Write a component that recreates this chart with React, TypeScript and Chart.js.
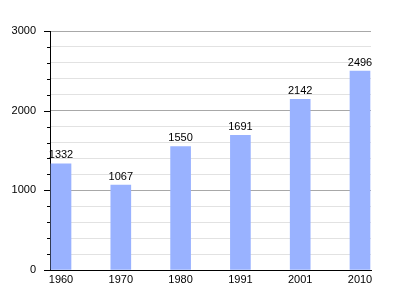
import React, { useEffect, useRef } from "react";
import { Chart, registerables } from "chart.js";

Chart.register(...registerables);

const categories = ["1960", "1970", "1980", "1991", "2001", "2010"];
const populations = [1332, 1067, 1550, 1691, 2142, 2496];
const yTickLabels = [0, 1000, 2000, 3000];

const FONT = "'Liberation Sans', Arial, sans-serif";

const overlayPlugin = {
  id: "overlay",
  afterDatasetsDraw(chart: any) {
    const ctx = chart.ctx;
    const y = chart.scales.y;
    const area = chart.chartArea;
    ctx.save();
    ctx.strokeStyle = "#000";
    ctx.lineWidth = 1;
    for (let v = 0; v <= 3000; v += 200) {
      const py = Math.round(y.getPixelForValue(v)) + 0.5;
      const len = yTickLabels.includes(v) ? 6 : 3;
      ctx.beginPath();
      ctx.moveTo(area.left - len, py);
      ctx.lineTo(area.left, py);
      ctx.stroke();
    }
    ctx.fillStyle = "#000";
    ctx.font = `11px ${FONT}`;
    ctx.textAlign = "center";
    ctx.textBaseline = "bottom";
    const meta = chart.getDatasetMeta(0);
    meta.data.forEach((bar: any, i: number) => {
      ctx.fillText(String(populations[i]), bar.x, bar.y - 3);
    });
    ctx.restore();
  },
};

export default function App() {
  const ref = useRef<HTMLCanvasElement>(null);
  useEffect(() => {
    if (!ref.current) return;
    const chart = new Chart(ref.current, {
      type: "bar",
      data: {
        datasets: [
          {
            data: populations.map((v, i) => ({ x: i, y: v })),
            backgroundColor: "#99b2ff",
            borderWidth: 0,
            barThickness: 20,
          },
        ],
      },
      options: {
        responsive: false,
        animation: false,
        layout: { padding: { left: 0, right: 29, top: 31, bottom: 0 } },
        plugins: { legend: { display: false }, tooltip: { enabled: false } },
        scales: {
          x: {
            type: "linear",
            offset: false,
            min: -0.184,
            max: 5.184,
            afterBuildTicks(scale: any) {
              scale.ticks = categories.map((_, i) => ({ value: i }));
            },
            afterFit(scale: any) {
              scale.height = 30;
            },
            grid: { display: false, drawTicks: false },
            border: { display: true, color: "#000", width: 1 },
            ticks: {
              padding: 3,
              color: "#000",
              font: { family: FONT, size: 11 },
              maxRotation: 0,
              autoSkip: false,
              callback: (v: any) => categories[Math.round(Number(v))] ?? "",
            },
          },
          y: {
            min: 0,
            max: 3000,
            afterBuildTicks(scale: any) {
              const t = [];
              for (let v = 0; v <= 3000; v += 200) t.push({ value: v });
              scale.ticks = t;
            },
            afterFit(scale: any) {
              scale.width = 50;
            },
            grid: {
              drawTicks: false,
              color: (c: any) =>
                c.tick && c.tick.value === 0
                  ? "rgba(0,0,0,0)"
                  : c.tick && yTickLabels.includes(c.tick.value)
                  ? "#a8a8a8"
                  : "#e2e2e2",
            },
            border: { display: true, color: "#000", width: 1 },
            ticks: {
              padding: 14,
              color: "#000",
              font: { family: FONT, size: 11 },
              autoSkip: false,
              callback: (v: any) => (yTickLabels.includes(Number(v)) ? String(v) : ""),
            },
          },
        },
      },
      plugins: [overlayPlugin],
    } as any);
    return () => chart.destroy();
  }, []);
  return (
    <div style={{ position: "absolute", left: 0, top: 0, width: 400, height: 300, background: "#fff" }}>
      <canvas ref={ref} width={400} height={300} style={{ display: "block" }} />
    </div>
  );
}
